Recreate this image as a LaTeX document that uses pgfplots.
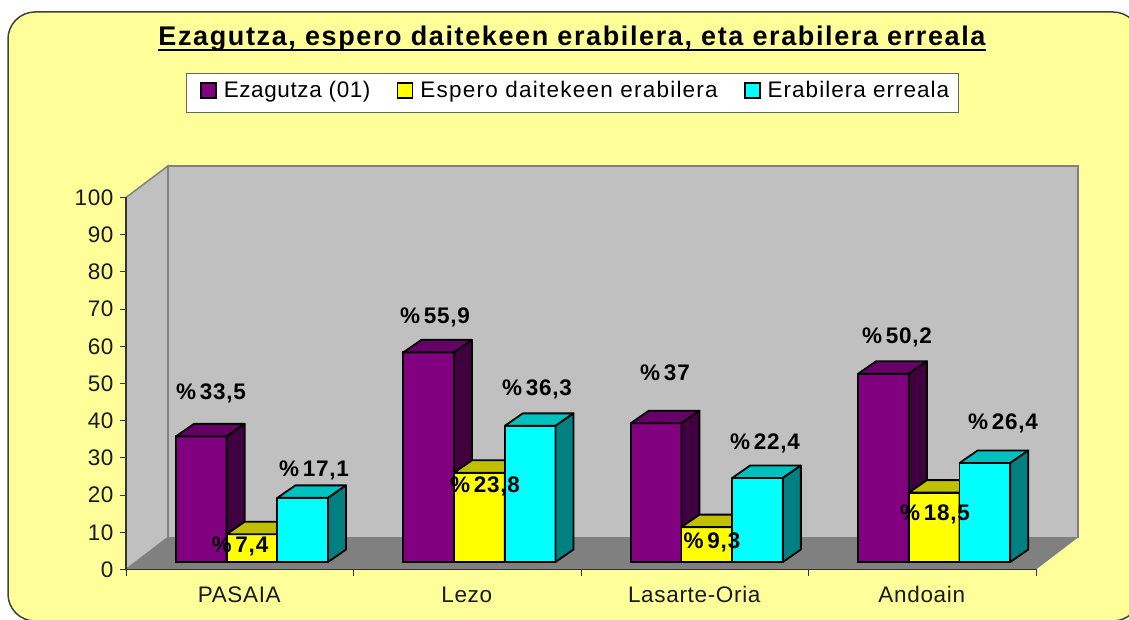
\documentclass[border=0pt]{standalone}
\usepackage{pgfplots}
\pgfplotsset{compat=1.18}
\usepackage{fontspec}
\setmainfont[LetterSpace=3]{Liberation Sans}
\newfontfamily\titlefont[LetterSpace=6]{Liberation Sans}
\newfontfamily\labfont[LetterSpace=3.5]{Liberation Sans}
\newfontfamily\legA[LetterSpace=2.7]{Liberation Sans}
\newfontfamily\legB[LetterSpace=5.5]{Liberation Sans}
\newfontfamily\legC[LetterSpace=4.5]{Liberation Sans}
\definecolor{bg}{HTML}{FFFF99}
\definecolor{wall}{HTML}{C0C0C0}
\definecolor{floorc}{HTML}{808080}
\definecolor{pur}{HTML}{800080}
\definecolor{purT}{HTML}{660066}
\definecolor{purS}{HTML}{400040}
\definecolor{yel}{HTML}{FFFF00}
\definecolor{yelT}{HTML}{C0C000}
\definecolor{yelS}{HTML}{808000}
\definecolor{cya}{HTML}{00FFFF}
\definecolor{cyaT}{HTML}{00C0C0}
\definecolor{cyaS}{HTML}{008080}
\newcommand\depth[4]{%
  \pgfmathsetmacro\xa{#1-0.1115}%
  \pgfmathsetmacro\xb{#1+0.1115}%
  \pgfmathsetmacro\xc{#1+0.1115+0.0792}%
  \pgfmathsetmacro\xd{#1-0.1115+0.0792}%
  \pgfmathsetmacro\ye{#2+3.33}%
  \addplot[draw=black,line width=1.8pt,fill=#3,forget plot,line join=round] coordinates {(\xa,#2)(\xb,#2)(\xc,\ye)(\xd,\ye)} -- cycle;
  \addplot[draw=black,line width=1.8pt,fill=#4,forget plot,line join=round] coordinates {(\xb,0)(\xb,#2)(\xc,\ye)(\xc,3.33)} -- cycle;
}
\newcommand\lab[3]{\node[font=\fontsize{22.5}{26}\selectfont\labfont\bfseries,text=black,inner sep=0pt] at (#1,#2) {\%\,#3};}
\newcommand\legtext[2]{\raisebox{3pt}[14pt][5pt]{#1#2}}
\begin{document}
\begin{tikzpicture}[x=1pt,y=1pt]
\path (0,0) rectangle (1129,620);
\begin{scope}
\clip (0,0) rectangle (1129,620);
\draw[draw=black!75,line width=1.5pt,fill=bg,rounded corners=27pt] (8,-1) rectangle (1140,608);
\end{scope}
% frame axis: walls, floor, ticks
\begin{axis}[
  at={(126pt,50.5pt)},anchor=south west,
  scale only axis,width=910pt,height=372pt,
  xmin=-0.5,xmax=3.5,ymin=0,ymax=100,
  clip=false,axis on top=true,
  axis x line=bottom,axis y line=left,
  axis line style={-,draw=black!80,line width=1.2pt},
  tick align=outside,major tick length=6pt,minor tick length=7pt,
  xtick={0,1,2,3},xticklabels={PASAIA,Lezo,Lasarte-Oria,Andoain},
  minor xtick={-0.5,0.5,1.5,2.5,3.5},
  major x tick style={draw=none},
  minor x tick style={draw=black!80,line width=1pt},
  major y tick style={draw=black!80,line width=1pt},
  ytick={0,10,...,100},
  tick label style={font=\fontsize{22.5}{26}\selectfont,text=black!90},
  /pgf/number format/assume math mode=true,
  xticklabel style={text height=16pt,text depth=5pt,yshift=-7pt,xshift=-0.5pt},
  yticklabel style={xshift=-3pt},
]
\addplot[draw=floorc,line width=1.5pt,fill=wall] coordinates {(-0.3154,8.6)(3.6846,8.6)(3.6846,108.5)(-0.3154,108.5)} -- cycle;
\addplot[draw=floorc,line width=1.5pt,fill=wall] coordinates {(-0.5,0)(-0.3154,8.6)(-0.3154,108.5)(-0.5,100)} -- cycle;
\addplot[draw=none,fill=floorc] coordinates {(-0.5,0)(-0.3154,8.6)(3.6846,8.6)(3.5,0)} -- cycle;
\end{axis}
% bars
\begin{axis}[
  at={(138.3pt,58pt)},anchor=south west,
  scale only axis,width=909.6pt,height=375pt,
  xmin=-0.5,xmax=3.5,ymin=0,ymax=100,
  clip=false,hide axis,
  legend columns=3,
  legend style={at={(0.4774,1.2507)},anchor=center,
    draw=black!60,line width=1pt,fill=white,
    font=\fontsize{22.5}{26}\selectfont,
    inner xsep=7pt,inner ysep=9pt,
    /tikz/every odd column/.append style={column sep=5pt},
    /tikz/every even column/.append style={column sep=18pt}},
  legend cell align=left,
  legend image code/.code={\path[draw=none,fill=none] (0pt,0pt) -- (22pt,0pt);\draw[#1,line width=1.8pt,draw=black] (7pt,-4pt) rectangle (22pt,11pt);},
]
\addplot[ybar,bar width=50.7pt,bar shift=-50.7pt,draw=black,line width=1.8pt,fill=pur] coordinates {(0,33.5)(1,55.9)(2,37)(3,50.2)};
\addlegendentry{\legtext{\legA}{Ezagutza (01)}}
\depth{-0.223}{33.5}{purT}{purS}
\depth{0.777}{55.9}{purT}{purS}
\depth{1.777}{37}{purT}{purS}
\depth{2.777}{50.2}{purT}{purS}
\addplot[ybar,bar width=50.7pt,bar shift=0pt,draw=black,line width=1.8pt,fill=yel] coordinates {(0,7.4)(1,23.8)(2,9.3)(3,18.5)};
\addlegendentry{\legtext{\legB}{Espero daitekeen erabilera}}
\depth{0}{7.4}{yelT}{yelS}
\depth{1}{23.8}{yelT}{yelS}
\depth{2}{9.3}{yelT}{yelS}
\depth{3}{18.5}{yelT}{yelS}
\addplot[ybar,bar width=50.7pt,bar shift=50.7pt,draw=black,line width=1.8pt,fill=cya] coordinates {(0,17.1)(1,36.3)(2,22.4)(3,26.4)};
\addlegendentry{\legtext{\legC}{Erabilera erreala}}
\depth{0.223}{17.1}{cyaT}{cyaS}
\depth{1.223}{36.3}{cyaT}{cyaS}
\depth{2.223}{22.4}{cyaT}{cyaS}
\depth{3.223}{26.4}{cyaT}{cyaS}
\end{axis}
% data labels
\lab{211}{227}{33,5}
\lab{240}{74}{7,4}
\lab{314}{150}{17,1}
\lab{435}{303}{55,9}
\lab{485}{134}{23,8}
\lab{537}{231}{36,3}
\lab{665}{247}{37}
\lab{712}{78}{9,3}
\lab{765}{177}{22,4}
\lab{897}{283}{50,2}
\lab{935}{106}{18,5}
\lab{1003}{197}{26,4}
% title
\node[font=\fontsize{27}{32}\selectfont\titlefont\bfseries,text=black,inner sep=0pt,anchor=base] (T) at (572,574.5) {Ezagutza, espero daitekeen erabilera, eta erabilera erreala};
\draw[line width=2.5pt,black] (T.base west)++(0,-4.5) -- ([yshift=-4.5pt]T.base east);
\pgfresetboundingbox
\path[use as bounding box] (0,0) rectangle (1129,620);
\end{tikzpicture}
\end{document}
